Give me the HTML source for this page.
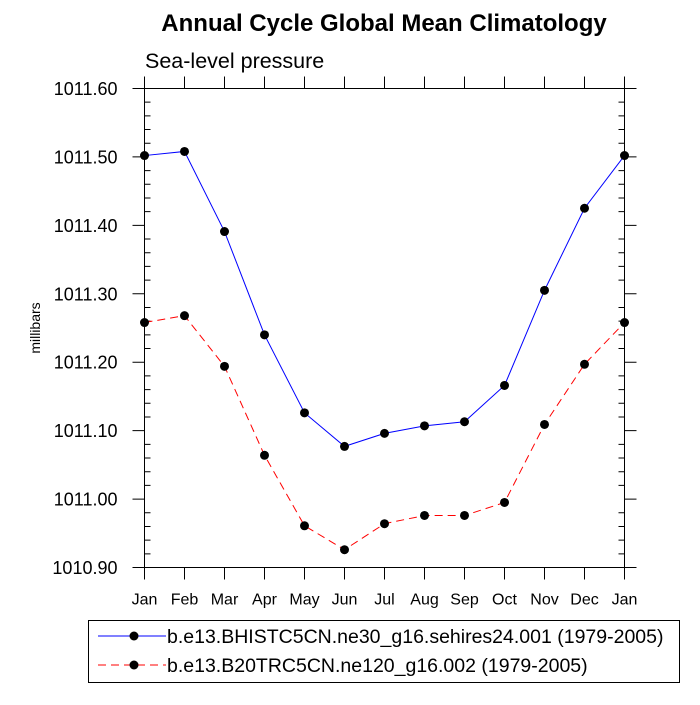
<!DOCTYPE html>
<html><head><meta charset="utf-8"><style>body{margin:0;background:#fff}svg{font-family:"Liberation Sans",sans-serif}</style></head>
<body>
<svg id="c" width="700" height="700"></svg>
<script>
const months=["Jan","Feb","Mar","Apr","May","Jun","Jul","Aug","Sep","Oct","Nov","Dec","Jan"];
const blueVals=[1011.502,1011.508,1011.391,1011.240,1011.126,1011.077,1011.096,1011.107,1011.113,1011.166,1011.305,1011.425,1011.502];
const redVals=[1011.258,1011.268,1011.194,1011.064,1010.961,1010.926,1010.964,1010.976,1010.976,1010.995,1011.109,1011.197,1011.258];
const yTicks=["1010.90","1011.00","1011.10","1011.20","1011.30","1011.40","1011.50","1011.60"];
const L=144.5,R=624.5,T=88.5,B=567.5,Y0=1010.9,Y1=1011.6;
const sx=i=>L+(R-L)*i/12, sy=v=>B-(v-Y0)/(Y1-Y0)*(B-T);
const svg=document.getElementById('c');const NS='http://www.w3.org/2000/svg';
function mk(t,a,p){const e=document.createElementNS(NS,t);for(const k in a)e.setAttribute(k,a[k]);(p||svg).appendChild(e);return e;}
let t=mk('text',{x:384,y:31,'text-anchor':'middle','font-size':24,'font-weight':'bold'});t.textContent='Annual Cycle Global Mean Climatology';


t=mk('text',{x:145,y:68,'font-size':21.5});t.textContent='Sea-level pressure';


t=mk('text',{x:40,y:328,'font-size':14,'text-anchor':'middle',transform:'rotate(-90 40 328)'});t.textContent='millibars';


const fr=mk('rect',{x:L,y:T,width:R-L,height:B-T,fill:'none',stroke:'#000','stroke-width':1});


let tk='';
for(let i=0;i<13;i++){const x=sx(i);tk+=`M${x} ${B}v12M${x} ${T}v-12`;
 t=mk('text',{x:x,y:B+37,'text-anchor':'middle','font-size':16});t.textContent=months[i];
 
 }
for(let i=0;i<yTicks.length;i++){const y=sy(+yTicks[i]);tk+=`M${L} ${y}h-12M${R} ${y}h12`;
 t=mk('text',{x:L-27,y:y+6.5,'text-anchor':'end','font-size':18});t.textContent=yTicks[i];
 
 }
for(let v=0;v<=35;v++){const y=sy(Y0+v*0.02);if(v%5)tk+=`M${L} ${y}h6M${R} ${y}h-6`;}
const tp=mk('path',{d:tk,stroke:'#000','stroke-width':1,fill:'none'});


function series(vals,col,dash,name){const g=mk('g',{});
 
 
 mk('polyline',{points:vals.map((v,i)=>sx(i)+','+sy(v)).join(' '),fill:'none',stroke:col,'stroke-width':1,'stroke-dasharray':dash},g);
 vals.forEach((v,i)=>{const c=mk('circle',{cx:sx(i),cy:sy(v),r:4.5,fill:'#000'},g);
 
 });}
series(blueVals,'#00f','none','series-bhistc5cn');
series(redVals,'#f00','8 5','series-b20trc5cn');
const lg=mk('g',{});


mk('rect',{x:88.5,y:620.5,width:591,height:62,fill:'none',stroke:'#000'},lg);
[[636,'#00f','none','b.e13.BHISTC5CN.ne30_g16.sehires24.001 (1979-2005)'],[665,'#f00','8 5','b.e13.B20TRC5CN.ne120_g16.002 (1979-2005)']].forEach(r=>{
 const e=mk('g',{},lg);
 
 
 mk('line',{x1:98,x2:166,y1:r[0],y2:r[0],stroke:r[1],'stroke-dasharray':r[2]},e);
 mk('circle',{cx:134,cy:r[0],r:4.5,fill:'#000'},e);
 const tt=mk('text',{x:167,y:r[0]+7,'font-size':19.5},e);tt.textContent=r[3];});
</script>
</body></html>
